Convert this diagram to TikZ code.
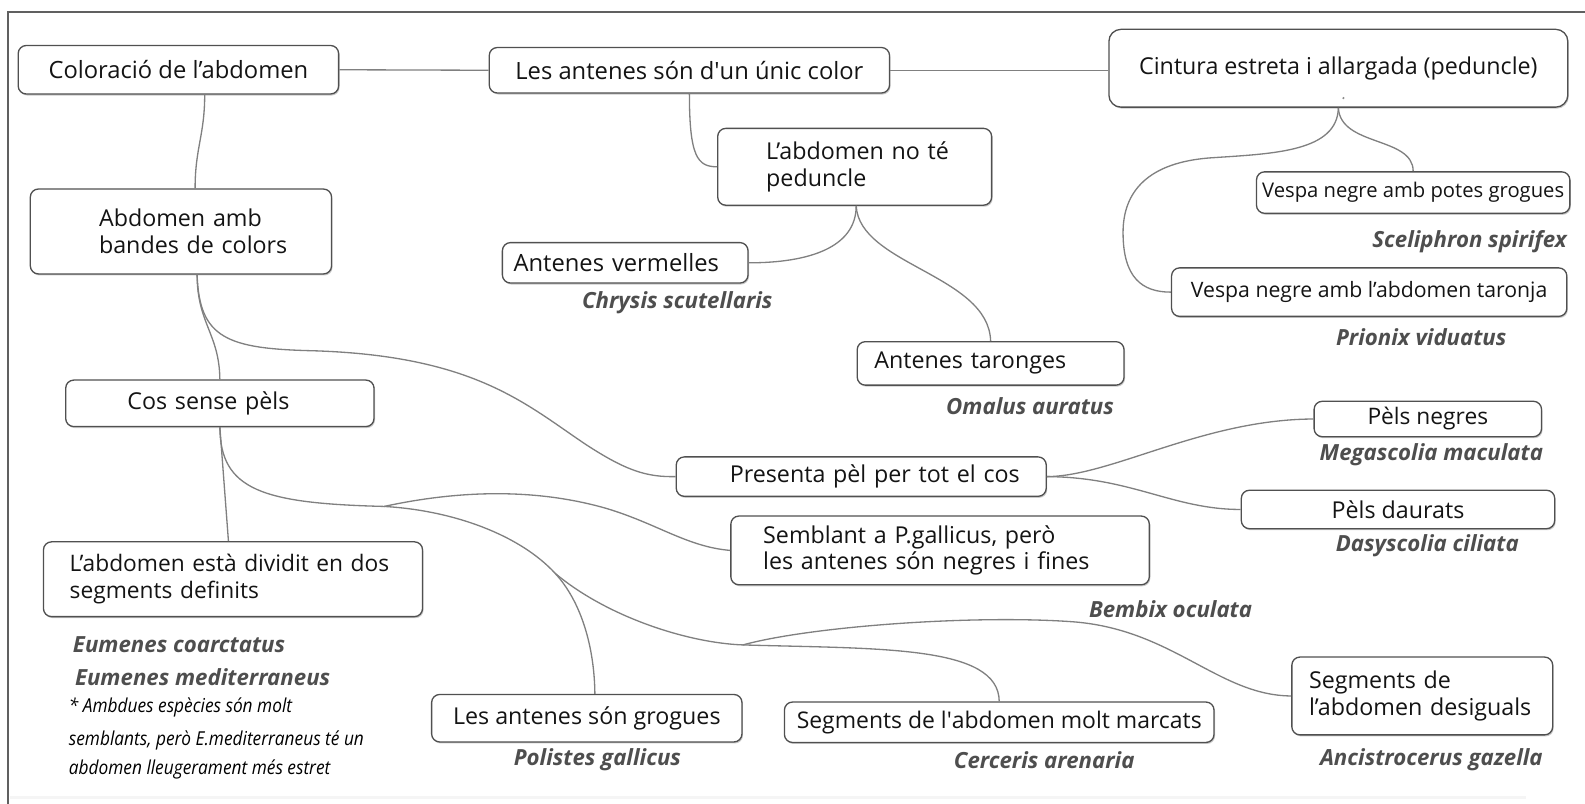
\documentclass[tikz,border=0pt]{standalone}
\usepackage{fontspec}
\setmainfont{Open Sans}
\usetikzlibrary{shadows}
\definecolor{boxline}{HTML}{505050}
\definecolor{conn}{HTML}{808080}
\definecolor{spc}{HTML}{4E4E4E}
\definecolor{txt}{HTML}{141414}
\definecolor{frm}{HTML}{606060}
\newcommand{\myfs}[1]{\fontsize{#1}{26.5}\selectfont}
\tikzset{
  box/.style={draw=boxline, line width=1.3pt, rounded corners=8pt, fill=white, text=txt,
    inner xsep=0pt, inner ysep=0pt, align=center, font=\myfs{23},
    drop shadow={shadow xshift=1pt, shadow yshift=-1.5pt, opacity=0.35, fill=black!60}},
  lbox/.style={box, align=left},
  link/.style={draw=conn, line width=1.3pt},
  species/.style={text=spc, font=\myfs{22}\bfseries\itshape, inner sep=0pt},
  note/.style={text=black, font=\fontsize{19}{22}\selectfont\itshape, inner sep=0pt, anchor=west},
}
\begin{document}
\begin{tikzpicture}[x=1pt,y=-1pt]
\useasboundingbox (0,0) rectangle (1568,795);
\fill[white] (0,0) rectangle (1568,795);
\draw[frm, line width=1.6pt] (8,795) -- (8,12) -- (1568,12);
\draw[black!4, line width=3pt] (10,789) -- (1510,789);

% boxes
\node[box, minimum width=317pt, minimum height=48pt, font=\myfs{23.5}] (colo) at (176.5,69) {Coloració de l’abdomen};
\node[box, minimum width=396pt, minimum height=45pt, font=\myfs{23.5}] (ant1) at (682,69.5) {Les antenes són d\textquotesingle un únic color};
\node[box, minimum width=454pt, minimum height=77pt, rounded corners=12pt] (cint) at (1324,67.5) {Cintura estreta i allargada (peduncle)};
\node[lbox, minimum width=271pt, minimum height=76pt, text width=175pt, inner xsep=48pt] (noped) at (845.5,165) {\mbox{L’abdomen no té}\\\mbox{peduncle}};
\node[lbox, minimum width=298pt, minimum height=84pt, text width=162pt, inner xsep=68pt] (bandes) at (179,229) {\mbox{Abdomen amb}\\\mbox{bandes de colors}};
\node[box, minimum width=310pt, minimum height=41pt, font=\myfs{20}] (potes) at (1398,190.5) {Vespa negre amb potes grogues};
\node[lbox, minimum width=243pt, minimum height=40pt, text width=221pt, inner xsep=11pt, font=\myfs{23.5}] (verm) at (618.5,260) {\mbox{Antenes vermelles}};
\node[box, minimum width=391pt, minimum height=48pt, font=\myfs{21}] (taronja) at (1354.5,289) {Vespa negre amb l’abdomen taronja};
\node[lbox, minimum width=264pt, minimum height=43pt, text width=230pt, inner xsep=17pt] (taronges) at (980,359.5) {\mbox{Antenes taronges}};
\node[lbox, minimum width=305pt, minimum height=46pt, text width=183pt, inner xsep=61pt] (cos) at (217.5,399) {\mbox{Cos sense pèls}};
\node[box, minimum width=225pt, minimum height=35pt, font=\myfs{22.5}] (negres) at (1412.5,414.5) {Pèls negres};
\node[lbox, minimum width=366pt, minimum height=39pt, text width=260pt, inner xsep=53pt] (presenta) at (852,471.5) {\mbox{Presenta pèl per tot el cos}};
\node[box, minimum width=310pt, minimum height=38pt] (daurats) at (1383,504) {Pèls daurats};
\node[lbox, minimum width=414pt, minimum height=68pt, text width=350pt, inner xsep=32pt] (semblant) at (930,544.5) {\mbox{Semblant a P.gallicus, però}\\\mbox{les antenes són negres i fines}};
\node[lbox, minimum width=375pt, minimum height=74pt, text width=323pt, inner xsep=26pt, font=\myfs{22.5}] (dividit) at (230.5,573) {\mbox{L’abdomen està dividit en dos}\\\mbox{segments definits}};
\node[lbox, minimum width=258pt, minimum height=77pt, text width=224pt, inner xsep=17pt] (desig) at (1407,688.5) {\mbox{Segments de}\\\mbox{l’abdomen desiguals}};
\node[box, minimum width=307pt, minimum height=47pt] (grogues) at (580.5,710.5) {Les antenes són grogues};
\node[box, minimum width=425pt, minimum height=40pt, font=\myfs{22.7}] (marcats) at (988.5,714.5) {Segments de l\textquotesingle abdomen molt marcats};

\fill[black!45] (1329,97) circle (1.2pt);

% species names
\node[species, anchor=east] (scel) at (1550,239) {Sceliphron spirifex};
\node[species] (chry) at (670,299) {Chrysis scutellaris};
\node[species] (prio) at (1406,334) {Prionix viduatus};
\node[species] (omal) at (1019,402) {Omalus auratus};
\node[species] (mega) at (1416,450) {Megascolia maculata};
\node[species] (dasy) at (1412,540) {Dasyscolia ciliata};
\node[species] (bemb) at (1158,603) {Bembix oculata};
\node[species, anchor=west] (eum1) at (72,638) {Eumenes coarctatus};
\node[species, anchor=west] (eum2) at (74,669.5) {Eumenes mediterraneus};
\node[species] (poli) at (591,752) {Polistes gallicus};
\node[species] (cerc) at (1033,752) {Cerceris arenaria};
\node[species] (anci) at (1416,752) {Ancistrocerus gazella};

% footnote
\node[note] (fn1) at (68,700) {\scalebox{0.9}[1]{* Ambdues espècies són molt}};
\node[note] (fn2) at (68,732) {\scalebox{0.9}[1]{semblants, però E.mediterraneus té un}};
\node[note] (fn3) at (68,761.5) {\scalebox{0.9}[1]{abdomen lleugerament més estret}};

% branch points
\coordinate (j1) at (380,501);
\coordinate (j2) at (549,567);
\coordinate (j3) at (735,638);

% connectors
\draw[link] (colo.east) -- (ant1.west);
\draw[link] (ant1.east) -- (ant1.east -| cint.west);
\draw[link] ([xshift=26pt]colo.south) .. controls +(0,40) and +(0,-40) .. ([xshift=14pt]bandes.north);
\draw[link] (ant1.south) .. controls (682,155) and (690,165) .. (noped.west);
\draw[link] ([xshift=1.5pt]noped.south) .. controls (847,245) and (800,260) .. (verm.east);
\draw[link] ([xshift=1.5pt]noped.south) .. controls (850,262) and (978,272) .. (taronges.north);
\draw[link] (cint.south) .. controls (1326,145) and (1398,135) .. (potes.north);
\draw[link] (cint.south) .. controls (1323,150) and (1260,152) .. (1200,156)
   .. controls (1135,160) and (1111,190) .. (1111,230)
   .. controls (1111,275) and (1130,289) .. (taronja.west);
\draw[link] ([xshift=16pt]bandes.south) .. controls (195,320) and (217,330) .. (cos.north);
\draw[link] ([xshift=16pt]bandes.south) .. controls (197,335) and (225,345) .. (310,347)
   .. controls (470,352) and (520,400) .. (580,440)
   .. controls (620,466) and (640,472) .. (presenta.west);
\draw[link] (cos.south) -- ([xshift=-4.5pt]dividit.north);
\draw[link] (cos.south) .. controls (218,485) and (260,498) .. (j1);
\draw[link] (j1) .. controls (440,488) and (520,480) .. (600,503)
   .. controls (650,518) and (680,541) .. (semblant.west);
\draw[link] (j1) .. controls (450,505) and (515,530) .. (j2);
\draw[link] (j2) .. controls (575,595) and (588,640) .. ([xshift=8pt]grogues.north);
\draw[link] (j2) .. controls (600,610) and (680,636) .. (j3);
\draw[link] (j3) .. controls (800,620) and (960,608) .. (1060,615)
   .. controls (1160,622) and (1205,688) .. (desig.west);
\draw[link] (j3) .. controls (870,642) and (988,638) .. (marcats.north);
\draw[link] (presenta.east) .. controls (1100,471) and (1190,415) .. (negres.west);
\draw[link] (presenta.east) .. controls (1120,472) and (1160,504) .. (daurats.west);
\end{tikzpicture}
\end{document}
